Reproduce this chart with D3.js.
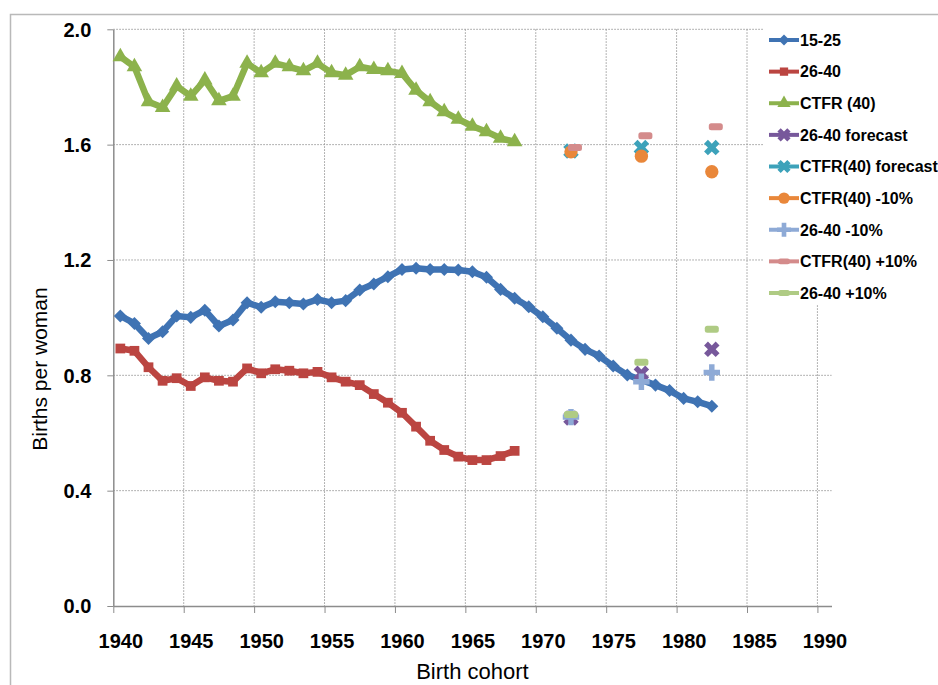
<!DOCTYPE html>
<html>
<head>
<meta charset="utf-8">
<script src="https://cdn.jsdelivr.net/npm/d3@7"></script>
<style>
  body { margin: 0; background: #fff; }
  svg { display: block; font-family: "Liberation Sans", Arial, sans-serif; }
  .tick text { fill: #000; }
</style>
</head>
<body>
<svg id="chart"></svg>
<script>
"use strict";

var svg_width = 938;
var svg_height = 685;

// observed cohorts
var cohortStart = 1940;
var ctfr40 = [1.905, 1.870, 1.749, 1.729, 1.803, 1.768, 1.824, 1.752, 1.768, 1.882,
              1.849, 1.882, 1.870, 1.856, 1.882, 1.849, 1.841, 1.870, 1.861, 1.856,
              1.847, 1.789, 1.749, 1.714, 1.688, 1.664, 1.645, 1.622, 1.610];
var births2640 = [0.893, 0.885, 0.828, 0.781, 0.790, 0.763, 0.793, 0.781, 0.778, 0.824,
                  0.807, 0.821, 0.816, 0.807, 0.812, 0.793, 0.778, 0.766, 0.735, 0.705,
                  0.670, 0.622, 0.573, 0.541, 0.518, 0.506, 0.506, 0.520, 0.538];
var births1525 = [1.006, 0.980, 0.928, 0.951, 1.006, 1.001, 1.026, 0.971, 0.992, 1.052,
                  1.036, 1.055, 1.052, 1.047, 1.063, 1.052, 1.059, 1.096, 1.117, 1.142,
                  1.167, 1.171, 1.167, 1.167, 1.165, 1.159, 1.140, 1.098, 1.067, 1.038,
                  1.003, 0.963, 0.922, 0.890, 0.867, 0.832, 0.801, 0.784, 0.766, 0.747,
                  0.720, 0.708, 0.693];

// forecast cohorts
var forecastYears = [1972, 1977, 1982];
var forecast2640 = [0.652, 0.807, 0.890];
var forecastCtfr = [1.578, 1.590, 1.590];
var ctfrMinus10 = [1.575, 1.560, 1.506];
var minus10_2640 = [0.655, 0.778, 0.810];
var ctfrPlus10 = [1.590, 1.631, 1.662];
var plus10_2640 = [0.664, 0.845, 0.960];

var xTickLabels = [1940, 1945, 1950, 1955, 1960, 1965, 1970, 1975, 1980, 1985, 1990];
var yTicks = [0.0, 0.4, 0.8, 1.2, 1.6, 2.0];

var seriesNames = ["15-25", "26-40", "CTFR (40)", "26-40 forecast", "CTFR(40) forecast",
                   "CTFR(40) -10%", "26-40 -10%", "CTFR(40) +10%", "26-40 +10%"];

function toPoints(start, values) {
    return values.map(function(v, i) { return {year: start + i, value: v}; });
}
function toPointsAt(years, values) {
    return values.map(function(v, i) { return {year: years[i], value: v}; });
}

// dx: the pink dash marker sits a little right of its category in the original
var series = [
    {name: seriesNames[0], data: toPoints(cohortStart, births1525), color: "#3f73b3", marker: "diamond", line: true},
    {name: seriesNames[1], data: toPoints(cohortStart, births2640), color: "#bb4541", marker: "square", line: true},
    {name: seriesNames[2], data: toPoints(cohortStart, ctfr40), color: "#8cb24c", marker: "triangle", line: true},
    {name: seriesNames[3], data: toPointsAt(forecastYears, forecast2640), color: "#77589b", marker: "x", line: false},
    {name: seriesNames[4], data: toPointsAt(forecastYears, forecastCtfr), color: "#3da2ba", marker: "x", line: false},
    {name: seriesNames[5], data: toPointsAt(forecastYears, ctfrMinus10), color: "#e9873a", marker: "circle", line: false},
    {name: seriesNames[6], data: toPointsAt(forecastYears, minus10_2640), color: "#8eaad6", marker: "plus", line: false},
    {name: seriesNames[7], data: toPointsAt(forecastYears, ctfrPlus10), color: "#d48b8b", marker: "dash", line: false, dx: 4},
    {name: seriesNames[8], data: toPointsAt(forecastYears, plus10_2640), color: "#afcb84", marker: "dash", line: false}
];

var svg = d3.select("#chart")
    .attr("width", svg_width)
    .attr("height", svg_height);

// outer chart frame (cropped on right and bottom)
svg.append("path")
    .attr("d", "M10.5," + svg_height + " V14.5 H" + svg_width)
    .attr("fill", "none")
    .attr("stroke", "#b9b9b9")
    .attr("stroke-width", 1.5);

// categories are 1940..1990, ticks sit between categories
var xScale = d3.scaleLinear()
    .domain([1939.5, 1990.5])
    .range([113.3, 831.5]);
var yScale = d3.scaleLinear()
    .domain([0, 2])
    .range([606, 29.3]);

var boundaries = xTickLabels.map(function(d) { return d - 0.5; });

// grid
var grid = svg.append("g").attr("class", "grid");
grid.selectAll(".hgrid")
    .data(yTicks.filter(function(d) { return d > 0; }))
    .enter().append("line")
    .attr("x1", xScale.range()[0]).attr("x2", xScale.range()[1])
    .attr("y1", function(d) { return yScale(d); })
    .attr("y2", function(d) { return yScale(d); })
    .attr("stroke", "#9a9a9a")
    .attr("stroke-width", 1)
    .attr("stroke-dasharray", "1.5,1.5");
grid.selectAll(".vgrid")
    .data(boundaries.slice(1))
    .enter().append("line")
    .attr("x1", function(d) { return xScale(d); })
    .attr("x2", function(d) { return xScale(d); })
    .attr("y1", yScale(2)).attr("y2", yScale(0))
    .attr("stroke", "#9a9a9a")
    .attr("stroke-width", 1)
    .attr("stroke-dasharray", "1.5,1.5");

// axes
var xAxis = svg.append("g")
    .attr("class", "axis axis--x")
    .attr("transform", "translate(0," + yScale(0) + ")")
    .call(d3.axisBottom(xScale).tickValues(boundaries).tickSize(7).tickSizeOuter(0).tickFormat(""));
xAxis.select(".domain").attr("stroke", "#8c8c8c").attr("stroke-width", 1.5);
xAxis.selectAll(".tick line").attr("stroke", "#8c8c8c");

var xLabels = svg.append("g")
    .attr("class", "axis axis--xlabels")
    .attr("transform", "translate(0," + yScale(0) + ")")
    .call(d3.axisBottom(xScale).tickValues(xTickLabels).tickSize(0).tickFormat(d3.format("d")));
xLabels.select(".domain").remove();
xLabels.selectAll(".tick text")
    .attr("y", 42).attr("dy", 0)
    .attr("font-size", 20).attr("font-weight", "bold").attr("font-family", "Liberation Sans, Arial, sans-serif");

var yAxis = svg.append("g")
    .attr("class", "axis axis--y")
    .attr("transform", "translate(" + xScale.range()[0] + ",0)")
    .call(d3.axisLeft(yScale).tickValues(yTicks).tickSize(6).tickSizeOuter(0).tickFormat(d3.format(".1f")));
yAxis.select(".domain").attr("stroke", "#8c8c8c").attr("stroke-width", 1.5);
yAxis.selectAll(".tick line").attr("stroke", "#8c8c8c");
yAxis.selectAll(".tick text")
    .attr("x", -22).attr("dy", "0.34em")
    .attr("font-size", 20).attr("font-weight", "bold").attr("font-family", "Liberation Sans, Arial, sans-serif");

// axis titles
svg.append("text")
    .attr("text-anchor", "middle")
    .attr("transform", "translate(" + ((xScale.range()[0] + xScale.range()[1]) / 2) + ",679)")
    .attr("font-size", 22)
    .text("Birth cohort");
svg.append("text")
    .attr("text-anchor", "middle")
    .attr("transform", "translate(47,369) rotate(-90)")
    .attr("font-size", 21)
    .text("Births per woman");

// markers
function markerPath(type, scale) {
    var s = scale || 1;
    if (type === "diamond") return d3.symbol().type(d3.symbolSquare).size(85 * s * s)();
    if (type === "square") return d3.symbol().type(d3.symbolSquare).size(95 * s * s)();
    if (type === "triangle") return d3.symbol().type(d3.symbolTriangle).size(105 * s * s)();
    if (type === "x") return d3.symbol().type(d3.symbolCross).size(150 * s * s)();
    if (type === "plus") return d3.symbol().type(d3.symbolCross).size(150 * s * s)();
    if (type === "circle") return d3.symbol().type(d3.symbolCircle).size(140 * s * s)();
    return null;
}
function markerRotate(type) {
    return (type === "diamond" || type === "x") ? 45 : 0;
}

function drawMarker(sel, type, color, scale, dx) {
    var s = scale || 1;
    var off = dx || 0;
    if (type === "dash") {
        sel.append("rect")
            .attr("x", -7 * s + off).attr("y", -3.5 * s)
            .attr("width", 14 * s).attr("height", 7 * s)
            .attr("rx", 2.5).attr("fill", color);
    } else {
        sel.append("path")
            .attr("d", markerPath(type, s))
            .attr("transform", "rotate(" + markerRotate(type) + ")")
            .attr("fill", color);
    }
}

var line = d3.line()
    .x(function(d) { return xScale(d.year); })
    .y(function(d) { return yScale(d.value); });

var plot = svg.append("g").attr("class", "series");
series.forEach(function(s) {
    var g = plot.append("g");
    if (s.line) {
        g.append("path")
            .datum(s.data)
            .attr("d", line)
            .attr("fill", "none")
            .attr("stroke", s.color)
            .attr("stroke-width", 6.5)
            .attr("stroke-linejoin", "round");
    }
    g.selectAll(".pt")
        .data(s.data)
        .enter().append("g")
        .attr("class", "pt")
        .attr("transform", function(d) { return "translate(" + xScale(d.year) + "," + yScale(d.value) + ")"; })
        .each(function() { drawMarker(d3.select(this), s.marker, s.color, 1, s.dx); });
});

// legend, white box covers the right part of the plot
var legend = svg.append("g").attr("class", "legend");
legend.append("rect")
    .attr("x", 763).attr("y", 20)
    .attr("width", svg_width - 763).attr("height", 285)
    .attr("fill", "#fff");

var legendY = d3.scalePoint()
    .domain(seriesNames)
    .range([40, 293]);

var entries = legend.selectAll(".entry")
    .data(series)
    .enter().append("g")
    .attr("class", "entry")
    .attr("transform", function(d) { return "translate(769," + legendY(d.name) + ")"; });
entries.append("line")
    .attr("x1", 0).attr("x2", 30)
    .attr("stroke", function(d) { return d.color; })
    .attr("stroke-width", 4);
entries.each(function(d) {
    var m = d3.select(this).append("g").attr("transform", "translate(15,0)");
    drawMarker(m, d.marker, d.color, 0.85, 0);
});
entries.append("text")
    .attr("x", 31)
    .attr("dy", "0.36em")
    .attr("font-size", 16)
    .attr("font-weight", "bold")
    .text(function(d) { return d.name; });
</script>
</body>
</html>
